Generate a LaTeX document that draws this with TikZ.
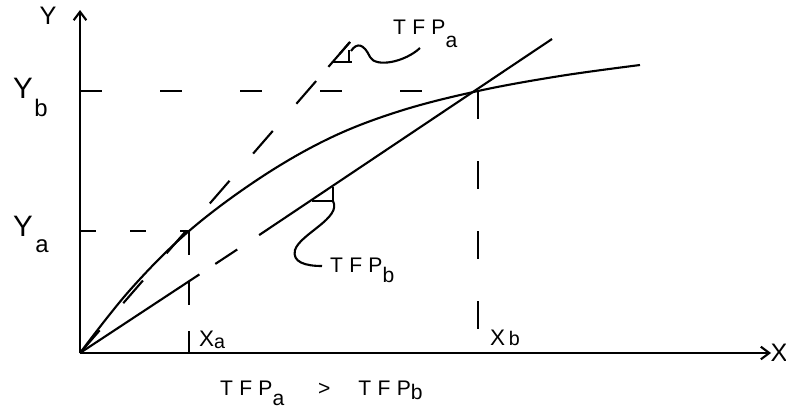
\documentclass[tikz,border=0pt]{standalone}
\usepackage{fontspec}
\setmainfont{Liberation Sans}
\newfontfamily\hand{Liberation Sans}[LetterSpace=30]
\usetikzlibrary{arrows.meta,calc}

\tikzset{
  lbl/.style={inner sep=0pt, font=\hand\fontsize{21}{21}\selectfont},
  tfp/.style={inner sep=0pt, anchor=west, font=\hand\fontsize{15}{15}\selectfont},
  sub/.style={inner sep=0pt, font=\hand\fontsize{17}{17}\selectfont}
}

\begin{document}
\begin{tikzpicture}[x=0.025cm,y=-0.025cm,line width=1.5pt,
  axis/.style={-{Straight Barb[length=6pt,width=9pt]}}]
\useasboundingbox (0,0) rectangle (786,415);

\coordinate (O) at (80,353);
\coordinate (ytop) at (80,10);
\coordinate (xend) at (771,353);
\coordinate (A) at (189,231);
\coordinate (B) at (478,91);
\coordinate (E) at (640,65);
\coordinate (Ta) at (350,42);
\coordinate (Tb) at (552,39);

% axes
\draw[axis] (O) -- (ytop);
\draw[axis] (O) -- (xend);
\node[lbl, font=\hand\fontsize{18}{18}\selectfont] (ylab) at (48,16) {Y};
\node[lbl, font=\hand\fontsize{18}{18}\selectfont] (xlab) at (779,353) {X};

% production curve
\draw plot[smooth, tension=0.6] coordinates {(O) (130,290) (A) (260,178)
  (330,138) (400,111) (B) (560,76) (E)};

% guide lines
\draw[dash pattern=on 0.55cm off 1.45cm] (O |- B) -- (B);
\draw[dash pattern=on 0.4cm off 0.85cm] (O |- A) -- (A);
\draw[dash pattern=on 0.6cm off 0.65cm] (A) -- (A |- O);
\draw[dash pattern=on 0.7cm off 1.05cm] (B) -- (B |- O);

% TFP_a ray (dashed)
\draw[dash pattern=on 0.75cm off 0.9cm] (O) -- (Ta);
\draw ($(O)!0.92!(Ta)$) -- (Ta);
\draw (332,62) -- (352,62);
\draw (349,50) -- (349,62);
\draw (351,51) .. controls (357,42) and (364,44) .. (370,57)
  .. controls (376,68) and (405,62) .. (420,48);
\node[tfp] (tfpa) at (392,34) {TFP\raisebox{-9pt}{a}};

% TFP_b ray (solid)
\draw (O) -- ($(O)!0.3!(B)$);
\draw ($(O)!0.34!(B)$) -- ($(O)!0.395!(B)$);
\draw ($(O)!0.45!(B)$) -- (Tb);
\draw (312,201) -- (334,201);
\draw (333,187) -- (333,201);
\draw (333,201) .. controls (342,218) and (300,234) .. (295,250)
  .. controls (292,262) and (305,266) .. (322,266);
\node[tfp] (tfpb) at (329,270) {TFP\raisebox{-7pt}{b}};

% axis labels
\node[lbl] (yb) at (23,88) {Y};
\node[sub] (ybs) at (41,108) {b};
\node[lbl] (ya) at (23,226) {Y};
\node[sub] (yas) at (42,246) {a};
\node[tfp, font=\hand\fontsize{16}{16}\selectfont] (xa) at (198,340) {X\raisebox{-1pt}{\fontsize{14}{14}\selectfont a}};
\node[tfp, font=\hand\fontsize{16}{16}\selectfont] (xb) at (489,338) {X\,{\fontsize{14}{14}\selectfont b}};

% comparison
\node[tfp] (cmp) at (219,393) {TFP\raisebox{-7pt}{a}\hspace{24pt}>\hspace{20pt}TFP\raisebox{-3pt}{b}};
\end{tikzpicture}
\end{document}
